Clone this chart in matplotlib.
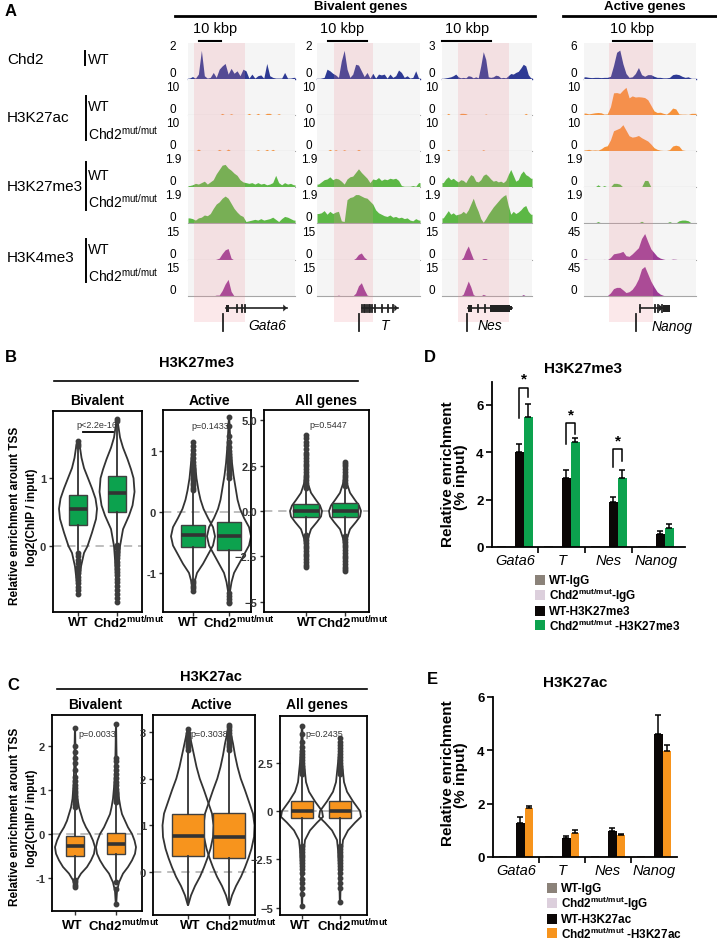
import numpy as np
import matplotlib
matplotlib.use('Agg')
import matplotlib.pyplot as plt
from matplotlib.lines import Line2D
from matplotlib.patches import Rectangle, Polygon

plt.rcParams['font.family'] = ['Liberation Sans', 'DejaVu Sans']
plt.rcParams['mathtext.fontset'] = 'custom'
plt.rcParams['mathtext.rm'] = 'Liberation Sans'
plt.rcParams['mathtext.it'] = 'Liberation Sans:italic'
plt.rcParams['mathtext.bf'] = 'Liberation Sans:bold'

# ------------------------------------------------------------------ DATA
loci = ['Gata6', 'T', 'Nes', 'Nanog']
track_marks = ['Chd2', 'H3K27ac', 'H3K27me3', 'H3K4me3']

scale_gata6 = [2, 10, 10, 1.9, 1.9, 15, 15]
scale_t = [2, 10, 10, 1.9, 1.9, 15, 15]
scale_nes = [3, 10, 10, 1.9, 1.9, 15, 15]
scale_nanog = [6, 10, 10, 1.9, 1.9, 45, 45]

gata6_chd2 = [0.05,0.15,0.05,0.3,1.75,0.2,0.05,0.1,0.4,0.1,0.6,0.8,0.95,0.3,0.65,0.35,0.5,0.2,0.6,0.5,0.05,0.3,0.05,0.2,0.25,0.05,0.95,0.2,0.1,0.05,0.05,0.05,0.4,0.05,0.05,0.1]
gata6_k27ac_wt = [0,0,0,0,0,0,0,0,0,0,0,0.6,0,0,0.5,0,0,0,0,0,0.6,0,0,0.6,0,0,0.6,0.6,0,0,0.5,0,0,0,0,0]
gata6_k27ac_mut = [0,0,0,0.7,0,0,0,0,0,0,0.6,0,0,0.7,0,0,0,0,0,0,0,0,0,0.5,0,0,0.6,0,0.6,0,0,0,0,0,0,0]
gata6_k27me3_wt = [0.1,0.15,0.25,0.2,0.3,0.4,0.2,0.35,0.5,0.9,1.2,1.5,1.55,1.3,1.15,0.95,0.8,0.5,0.35,0.3,0.25,0.3,0.2,0.3,0.2,0.25,0.15,0.2,0.3,0.8,0.3,0.15,0.3,0.2,0.25,0.15]
gata6_k27me3_mut = [0.35,0.3,0.2,0.35,0.4,0.55,0.5,0.65,1.0,1.3,1.45,1.7,1.85,1.7,1.35,1.0,0.75,0.55,0.45,0.1,0.15,0.2,0.25,0.2,0.3,0.2,0.25,0.3,0.4,0.25,0.1,0.3,0.45,0.4,0.3,0.2]
gata6_k4me3_wt = [0,0,0,0,0,0,0,0,0,0.4,1.0,3.5,5.5,6.2,1.0,0,0,0,0,0,0,0,0,0,0,0,0,0,0,0,0,0,0,0,0,0]
gata6_k4me3_mut = [0,0,0,0,0,0,0,0,0,0.5,0.5,3.0,6.5,9.0,2.5,0,0,0,0,0,0,0,0,0,0,0,0,0,0,0,0,0,0,0,0,0]

t_chd2 = [0,0.05,0.1,0.6,0.5,0.35,0.25,0.1,1.1,1.75,0.6,0.1,0.3,0.9,0.85,0.5,0.15,0.4,0.05,0.35,0.05,0.3,0.25,0.3,0.05,0.3,0.1,0.2,0.55,0.4,0.1,0.2,0.05,0.1,0.5,0.05]
t_k27ac_wt = [0,0,0,0,0,0,0,0,0,0,0,0,0,0,0,0,0,0,0,0,0,0,0,0,0,0,0,0,0,0,0,0,0,0,0,0]
t_k27ac_mut = [0,0,0,0,0.6,0,0.5,0,0,0.5,0,0,0,0,0.6,0,0,0,0,0,0,0,0,0,0,0,0,0,0,0,0,0,0,0,0,0]
t_k27me3_wt = [0.2,0.35,0.5,0.55,0.7,0.5,0.6,0.55,0.4,0.2,0.55,0.7,0.75,1.0,1.25,1.0,0.8,0.6,0.3,0.55,0.5,0.65,0.45,0.55,0.5,0.6,0.55,0.6,0.45,0.1,0.05,0.05,0.05,0.1,0.05,0.3]
t_k27me3_mut = [0.65,0.7,0.85,0.6,0.8,0.65,0.75,0.8,0.15,0.1,1.6,1.75,1.8,1.95,1.95,1.85,1.75,1.7,1.5,1.3,0.9,0.7,0.6,0.5,0.45,0.55,0.4,0.45,0.35,0.4,0.3,0.35,0.2,0.15,0.3,0.2]
t_k4me3_wt = [0,0,0,0,0,0,0,0,0,0,0,0,0,1.0,3.0,3.8,1.5,0.2,0,0,0,0,0,0,0,0,0,0,0,0,0,0,0,0,0,0]
t_k4me3_mut = [0,0,0,0,0,0,0,0.5,0,0,0,0,0,1.5,5.5,7.2,3.5,0.5,0,0,0,0,0,0,0,0,0,0,0,0,0,0,0,0,0,0]

nes_chd2 = [0.05,0.1,0.15,0.2,0.3,0.45,0.2,0.1,0.15,0.1,0.3,0.25,0.1,0.2,0.1,1.2,2.5,1.8,0.2,0.15,0.2,0.35,0.3,0.1,0.15,0.1,0.3,0.5,0.45,0.6,0.7,1.0,1.35,1.2,0.4,0.1]
nes_k27ac_wt = [0,0,0.6,0,0,0,0,0.6,0.6,0.5,0,0,0,0,0,0,0,0.4,0,0,0,0,0,0,0,0,0,0,0,0,0,0,0,0.6,0,0]
nes_k27ac_mut = [0,0,0.6,0,0,0,0,0,0,0,0,0,0,0,0,0,0.5,0,0,0,0,0,0,0,0,0,0,0,0,0,0,0,0,0,0,0]
nes_k27me3_wt = [0.3,0.55,0.7,0.5,0.6,0.45,0.35,0.5,0.45,0.3,0.6,0.85,0.75,0.4,0.35,0.5,0.8,0.9,0.75,0.55,0.4,0.45,0.35,0.4,0.3,0.45,0.85,1.2,0.8,0.4,0.5,0.9,1.1,0.85,0.75,0.6]
nes_k27me3_mut = [0.35,0.6,0.85,0.6,0.7,0.55,0.6,0.65,0.8,0.65,0.9,1.3,1.7,1.2,0.8,0.3,0.05,0.3,0.6,0.85,1.1,1.3,1.5,1.7,1.85,1.95,1.2,0.6,0.8,0.65,0.75,0.9,1.1,1.2,0.8,0.6]
nes_k4me3_wt = [0,0,0,0,0,0,0,0,1.5,5.0,7.6,4.0,0.5,0,0,0,0.8,0.8,0,0,0,0,0,0,0,0,0,0,0,0,0,0,0,0,0,0]
nes_k4me3_mut = [0,0,0,0,0,0,0,0,1.0,4.5,8.1,5.0,0.8,0,0,0,0.9,0.3,0,0,0,0,0,0,0,0,0,0,0,0,0,0,0.8,0,0,0]

nanog_chd2 = [0.4,0.3,0.25,0.3,0.3,0.25,0.3,0.3,0.5,2.5,4.9,5.3,2.8,1.0,0.3,0.4,1.0,2.1,0.8,0.5,0.8,0.8,0.5,0.3,0.3,0.2,0.2,0.3,0.8,0.9,0.8,0.5,0.3,0.4,0.1,0.05]
nanog_k27ac_wt = [0.7,0.4,0.6,0.8,0.9,0.8,0.3,0.4,3.0,8.0,8.1,7.8,9.0,10.0,6.2,6.9,6.5,6.6,6.5,6.3,5.5,3.5,1.5,0.9,1.0,0.6,0.3,1.2,2.5,2.2,0.4,0.3,0.3,0.2,0.6,0.6]
nanog_k27ac_mut = [0.4,0.6,0.3,0.4,0.3,0.8,1.6,1.9,4.0,7.3,7.8,8.3,9.5,7.5,5.5,5.0,5.2,5.6,4.8,4.2,3.6,2.5,1.2,0.6,0.3,0.2,0.2,0.5,1.8,2.1,1.8,0.4,0.2,0.1,0.1,0.1]
nanog_k27me3_wt = [0,0,0,0,0.15,0,0.1,0,0,0.25,0.25,0.2,0,0,0,0,0,0,0,0.45,0.45,0,0,0,0,0,0,0,0,0,0,0,0,0,0,0]
nanog_k27me3_mut = [0,0,0,0,0.1,0,0,0,0,0,0,0,0,0,0,0,0,0,0.12,0,0,0,0,0,0,0,0,0.1,0,0,0.15,0.2,0.2,0.15,0,0]
nanog_k4me3_wt = [1.5,0.5,0.2,0.2,0.2,0.5,1.0,0.5,4.0,10.0,11.0,12.0,14.0,7.0,6.0,10.0,15.0,20.0,35.0,43.0,30.0,18.0,12.0,6.0,3.0,1.5,0.3,0.3,1.5,1.2,0.2,0.1,0.1,0.1,0.1,0.1]
nanog_k4me3_mut = [0,0,0,0,0,0,0,0.5,5.0,12.0,14.0,14.0,10.0,5.6,7.0,11.0,18.0,28.0,44.0,48.0,36.0,24.0,15.0,7.0,3.0,1.0,0,0,0,0,0,0,0,0,0,0]

# gene models (fraction of each locus window)
gene_span = [(0.355, 0.925), (0.437, 0.786), (0.289, 0.778), (0.50, 0.705)]
gene_exons = [[0.458, 0.505, 0.533], [0.44, 0.455, 0.47, 0.485, 0.50, 0.515, 0.53, 0.563, 0.631, 0.689, 0.738],
              [0.40, 0.478], [0.50, 0.634, 0.661, 0.696]]
gene_thick = [[(0.355, 0.383)], [], [(0.289, 0.333), (0.533, 0.756)], [(0.705, 0.768)]]
gene_arrow = [True, True, False, True]
gene_tss = [0.327, 0.408, 0.278, 0.464]
gene_label_pos = [0.738, 0.66, 0.533, 0.786]

# Panel B (H3K27me3) violin density profiles
B_biv_wt_y = [-0.7,-0.5,-0.3,-0.1,0.0,0.2,0.4,0.55,0.7,0.85,1.0,1.15,1.3,1.45,1.55]
B_biv_wt_d = [0.3,1.5,3,6,9.5,14,18,19,17.5,14,10,6,3.5,2,0.5]
B_biv_mut_y = [-0.8,-0.5,-0.2,0.0,0.25,0.45,0.6,0.8,1.0,1.13,1.28,1.45,1.6,1.75,1.87]
B_biv_mut_d = [0.3,1,2,3,6,12,15.5,17.5,16.5,14,10.5,6,3,1.5,0.3]
B_act_wt_y = [-1.3,-1.15,-1.0,-0.85,-0.7,-0.55,-0.4,-0.25,-0.1,0.05,0.2,0.35,0.55,0.8,1.0,1.15]
B_act_wt_d = [0.3,1.5,4,10,15,20,22,20,15,10.5,7.5,5.5,3.5,2,1,0.3]
B_act_mut_y = [-1.5,-1.3,-1.15,-1.0,-0.85,-0.7,-0.55,-0.4,-0.25,-0.1,0.05,0.2,0.4,0.6,0.8,1.0,1.2,1.4,1.55]
B_act_mut_d = [0.3,1,2.5,5,10,15,20,22,20,15,11,8.5,6.5,4.5,3,2,1.2,0.6,0.2]
B_all_wt_y = [-3.1,-2.5,-2.0,-1.5,-1.0,-0.6,-0.3,0.0,0.3,0.6,1.0,1.5,2.0,3.0,4.2]
B_all_wt_d = [0.2,0.5,0.8,2,5,11,15,16,14,10,5,2,1,0.5,0.2]
B_all_mut_y = [-3.3,-2.5,-2.0,-1.5,-1.0,-0.6,-0.3,0.0,0.3,0.6,1.0,1.5,2.0,2.7]
B_all_mut_d = [0.2,0.5,0.8,2,5,11,15,16,14,10,5,2,0.8,0.2]

# box stats: (median, q1, q3, whisker low, whisker high)
B_biv_box = [(0.54, 0.31, 0.76, -0.05, 1.43), (0.78, 0.51, 1.03, 0.05, 1.81)]
B_act_box = [(-0.38, -0.57, -0.21, -1.10, 0.33), (-0.39, -0.62, -0.16, -1.30, 0.53)]
B_all_box = [(0.0, -0.33, 0.38, -1.25, 1.20), (0.0, -0.33, 0.44, -1.35, 1.35)]
B_biv_fl = [[-0.1,-0.15,-0.2,-0.25,-0.3,-0.35,-0.4,-0.45,-0.5,-0.55,-0.6,-0.65,-0.7,1.47,1.51,1.55],
            [0.02,-0.03,-0.08,-0.13,-0.18,-0.23,-0.28,-0.33,-0.38,-0.43,-0.48,-0.53,-0.58,-0.64,-0.7,-0.76,-0.82,1.84,1.87]]
B_act_fl = [[-1.13,-1.17,-1.21,-1.25,-1.29,0.36,0.40,0.44,0.48,0.52,0.56,0.60,0.64,0.68,0.72,0.77,0.82,0.88,0.95,1.02,1.08,1.15],
            [-1.33,-1.37,-1.42,-1.47,-1.5,0.56,0.60,0.64,0.68,0.72,0.76,0.80,0.85,0.90,0.95,1.0,1.06,1.15,1.25,1.4,1.55]]
B_all_fl = [[-1.3,-1.45,-1.6,-1.75,-1.9,-2.05,-2.2,-2.35,-2.5,-2.65,-2.8,-2.95,-3.1,1.25,1.4,1.55,1.7,1.85,2.0,2.15,2.3,2.45,2.6,2.75,2.9,3.05,3.2,3.4,3.6,3.8,4.0,4.2],
            [-1.4,-1.55,-1.7,-1.85,-2.0,-2.15,-2.3,-2.45,-2.6,-2.75,-2.9,-3.05,-3.2,-3.3,1.4,1.55,1.7,1.85,2.0,2.15,2.3,2.45,2.6,2.7]]
B_pvals = ['p<2.2e-16', 'p=0.1433', 'p=0.5447']

# Panel C (H3K27ac)
C_biv_wt_y = [-1.2,-1.05,-0.9,-0.75,-0.6,-0.45,-0.3,-0.15,0.0,0.15,0.3,0.45,0.6,0.8,1.1,1.5,2.0,2.4]
C_biv_wt_d = [0.3,2,6,12,16,19,20,18,15,11,8,6,4,2.5,1.5,0.8,0.4,0.1]
C_biv_mut_y = [-1.6,-1.3,-1.1,-0.9,-0.75,-0.6,-0.45,-0.3,-0.15,0.0,0.15,0.3,0.45,0.6,0.8,1.1,1.5,2.0,2.5]
C_biv_mut_d = [0.2,1,3,7,12,16,19,20,18.5,16,12,9,6,4.5,3,1.8,0.8,0.4,0.1]
C_act_wt_y = [-0.7,-0.5,-0.3,-0.1,0.1,0.3,0.5,0.75,1.0,1.25,1.5,1.75,2.0,2.25,2.5,2.75,3.05]
C_act_wt_d = [0.3,3,7,12,16,19.5,22.5,25,25.5,24,20,16,11.7,8.5,6,3.5,0.5]
C_act_mut_y = [-0.7,-0.5,-0.3,-0.1,0.1,0.3,0.5,0.75,1.0,1.25,1.5,1.75,2.0,2.25,2.5,2.75,3.0,3.15]
C_act_mut_d = [0.3,3,7,12,16,19.5,22.5,25,25.5,24,20,16,11.7,8.5,6,4,1.5,0.3]
C_all_wt_y = [-4.9,-4.0,-3.0,-2.5,-2.0,-1.5,-1.0,-0.6,-0.3,0.0,0.5,1.0,1.5,2.5,3.5,4.4]
C_all_wt_d = [0.2,0.5,1,1.5,2,3,8,15,21,20,13,7,4,2,0.8,0.2]
C_all_mut_y = [-4.7,-4.0,-3.0,-2.5,-2.0,-1.5,-1.0,-0.6,-0.3,0.0,0.5,1.0,1.5,2.5,3.2,3.8]
C_all_mut_d = [0.2,0.5,1,1.5,2,3,8,15,21,20,13,7,4,2,0.8,0.2]

C_biv_box = [(-0.27, -0.49, -0.05, -1.0, 0.6), (-0.24, -0.45, 0.02, -1.05, 0.7)]
C_act_box = [(0.77, 0.34, 1.24, -0.7, 2.6), (0.74, 0.30, 1.26, -0.7, 2.6)]
C_all_box = [(0.02, -0.38, 0.53, -1.75, 1.85), (0.02, -0.38, 0.53, -1.75, 1.85)]
C_biv_fl = [[-1.05,-1.1,-1.15,-1.2,0.62,0.68,0.74,0.8,0.86,0.92,0.98,1.05,1.12,1.2,1.3,1.45,1.6,1.72,1.85,2.0,2.4],
            [-1.1,-1.25,-1.6,0.72,0.78,0.84,0.9,0.96,1.02,1.1,1.18,1.26,1.35,1.45,1.55,1.65,1.72,2.5]]
C_act_fl = [[2.62,2.67,2.72,2.77,2.82,2.87,2.92,2.97,3.05],
            [2.62,2.67,2.72,2.77,2.82,2.87,2.92,2.97,3.03,3.1,3.15]]
C_all_fl = [[-1.8,-1.95,-2.1,-2.25,-2.4,-2.55,-2.7,-2.85,-3.0,-3.2,-3.5,-3.7,-4.0,-4.3,-4.9,1.9,2.05,2.2,2.35,2.5,2.65,2.8,2.95,3.1,3.3,3.6,4.0,4.4],
            [-1.8,-1.95,-2.1,-2.25,-2.4,-2.55,-2.7,-2.85,-3.0,-3.2,-3.45,-3.7,-4.0,-4.7,1.9,2.05,2.2,2.35,2.5,2.65,2.8,2.95,3.1,3.25,3.4,3.6,3.8]]
C_pvals = ['p=0.0033', 'p=0.3038', 'p=0.2435']

# Panel D (ChIP-qPCR H3K27me3)
D_wt_igg = [0.03, 0.03, 0.03, 0.03]
D_mut_igg = [0.03, 0.03, 0.03, 0.03]
D_wt = [4.02, 2.92, 1.90, 0.57]
D_wt_err = [0.33, 0.33, 0.22, 0.10]
D_mut = [5.50, 4.42, 2.92, 0.80]
D_mut_err = [0.55, 0.20, 0.33, 0.18]
D_br_top = [6.7, 5.22, 4.14]
D_br_left = [5.45, 4.35, 3.37]
D_br_right = [6.32, 4.77, 3.65]
D_star = [7.1, 5.58, 4.49]
D_legend = ['WT-IgG', r'Chd2$^{\mathbf{mut/mut}}$-IgG', 'WT-H3K27me3', r'Chd2$^{\mathbf{mut/mut}}$ -H3K27me3']

# Panel E (ChIP-qPCR H3K27ac)
E_wt_igg = [0.02, 0.02, 0.02, 0.02]
E_mut_igg = [0.02, 0.02, 0.02, 0.02]
E_wt = [1.27, 0.70, 0.96, 4.60]
E_wt_err = [0.23, 0.08, 0.11, 0.72]
E_mut = [1.82, 0.90, 0.83, 3.98]
E_mut_err = [0.08, 0.10, 0.05, 0.22]
E_legend = ['WT-IgG', r'Chd2$^{\mathbf{mut/mut}}$-IgG', 'WT-H3K27ac', r'Chd2$^{\mathbf{mut/mut}}$ -H3K27ac']

# ------------------------------------------------------------------ STYLE
W, H = 717, 945
fig = plt.figure(figsize=(W / 100, H / 100), dpi=100)

NAVY = '#2e3a94'; ORANGE_T = '#f7923a'; GREEN_T = '#5cb845'; PURPLE = '#9b3b96'
BOX_GREEN = '#0ca24e'; BOX_ORANGE = '#f7941d'
IGG_WT = '#8b8279'; IGG_MUT = '#dccfdc'; BLACK = '#0b0706'
DARK = '#333333'


def axpx(x0, y0, x1, y1, **kw):
    return fig.add_axes([x0 / W, 1 - y1 / H, (x1 - x0) / W, (y1 - y0) / H], **kw)


def tx(x, y, s, **kw):
    kw.setdefault('ha', 'center')
    kw.setdefault('va', 'center')
    return fig.text(x / W, 1 - y / H, s, **kw)


def ln(xs, ys, **kw):
    kw.setdefault('color', 'black')
    kw.setdefault('lw', 1.2)
    fig.add_artist(Line2D([x / W for x in xs], [1 - y / H for y in ys],
                          transform=fig.transFigure, **kw))


# ------------------------------------------------------------------ PANEL A
tx(5, 12, 'A', fontsize=12, fontweight='bold', ha='left')
tx(361, 7, 'Bivalent genes', fontsize=9.5, fontweight='bold')
ln([175, 535], [17, 17], lw=2)
tx(645, 7, 'Active genes', fontsize=9.5, fontweight='bold')
ln([563, 717], [17, 17], lw=2)

MUT = r'Chd2$^{\mathrm{mut/mut}}$'
tx(7, 60, 'Chd2', fontsize=11, ha='left')
ln([85, 85], [52, 66], lw=1.4)
tx(88, 60, 'WT', fontsize=10, ha='left')
for name, ym, yw, ymu, yb0, yb1 in [('H3K27ac', 118, 107, 134, 97, 141),
                                     ('H3K27me3', 187, 176, 202, 163, 211),
                                     ('H3K4me3', 258, 250, 276, 240, 283)]:
    tx(7, ym, name, fontsize=11, ha='left')
    ln([86, 86], [yb0, yb1], lw=1.4)
    tx(88, yw, 'WT', fontsize=10, ha='left')
    tx(88, ymu, MUT, fontsize=10, ha='left')

signals = [
    [gata6_chd2, gata6_k27ac_wt, gata6_k27ac_mut, gata6_k27me3_wt, gata6_k27me3_mut, gata6_k4me3_wt, gata6_k4me3_mut],
    [t_chd2, t_k27ac_wt, t_k27ac_mut, t_k27me3_wt, t_k27me3_mut, t_k4me3_wt, t_k4me3_mut],
    [nes_chd2, nes_k27ac_wt, nes_k27ac_mut, nes_k27me3_wt, nes_k27me3_mut, nes_k4me3_wt, nes_k4me3_mut],
    [nanog_chd2, nanog_k27ac_wt, nanog_k27ac_mut, nanog_k27me3_wt, nanog_k27me3_mut, nanog_k4me3_wt, nanog_k4me3_mut],
]
scales = [scale_gata6, scale_t, scale_nes, scale_nanog]
cols_px = [(188, 295, 194, 245), (317, 420, 334, 373), (442, 532, 458, 509), (584, 696, 609, 653)]
bar_px = [(199, 221), (328, 367), (442, 491), (613, 652)]
kbp_x = [215, 342, 467, 632]
label_x = [173, 309, 432, 574]
baselines = [80, 116, 152, 188, 224, 261, 297]
track_colors = [NAVY, ORANGE_T, ORANGE_T, GREEN_T, GREEN_T, PURPLE, PURPLE]
TH = 36

for ci, (x0, x1, p0, p1) in enumerate(cols_px):
    tx(kbp_x[ci], 29, '10 kbp', fontsize=10.5)
    ln(list(bar_px[ci]), [42, 42], lw=1.5)
    for ri, b in enumerate(baselines):
        ax = axpx(x0, b - TH, x1, b, facecolor='#f5f5f5')
        v = np.array(signals[ci][ri], dtype=float)
        n = len(v)
        xs = np.r_[0, np.arange(n) + 0.5, n]
        ys = np.r_[v[0], v, v[-1]]
        ax.fill_between(xs, ys, color=track_colors[ri], lw=0)
        s = scales[ci][ri]
        top = s * (1.1 if ri == 0 else 1.3)
        ax.set_xlim(0, n)
        ax.set_ylim(0, top)
        ax.plot([0, n], [0, 0], color=(NAVY if ri == 0 else '#a6a6a6'),
                lw=(1.0 if ri == 0 else 0.8), clip_on=False)
        for sp in ax.spines.values():
            sp.set_visible(False)
        ax.set_xticks([])
        ax.set_yticks([])
        tx(label_x[ci], b - TH * s / top, '%g' % s, fontsize=8.5)
        tx(label_x[ci], b - 6, '0', fontsize=8.5)
    # pink highlight of the promoter region
    fig.add_artist(Rectangle((p0 / W, 1 - 323 / H), (p1 - p0) / W, (323 - 44) / H,
                             transform=fig.transFigure, facecolor=(0.93, 0.55, 0.6),
                             alpha=0.2, lw=0, zorder=1))
    # gene model
    gax = axpx(x0, 300, x1, 336, zorder=3)
    gax.set_xlim(0, 1)
    gax.set_ylim(36, 0)
    gax.set_axis_off()
    gs, ge = gene_span[ci]
    gax.plot([gs, ge], [9, 9], color='#222222', lw=1.2)
    for e in gene_exons[ci]:
        gax.plot([e, e], [5.5, 12.5], color='#222222', lw=1.3)
    for (a, bb) in gene_thick[ci]:
        gax.add_patch(Rectangle((a, 5.5), bb - a, 7, facecolor='#222222', lw=0))
    if gene_arrow[ci]:
        gax.add_patch(Polygon([(ge - 0.035, 5.5), (ge, 9), (ge - 0.035, 12.5)],
                              closed=True, facecolor='#222222', lw=0))
    else:
        gax.add_patch(Rectangle((ge - 0.025, 7), 0.025, 4, facecolor='#222222', lw=0))
    gax.plot([gene_tss[ci], gene_tss[ci]], [15, 32], color='#222222', lw=1.3)
    gax.text(gene_label_pos[ci], 26.5, loci[ci], fontsize=10, fontstyle='italic',
             ha='center', va='center')


# ------------------------------------------------------------------ PANELS B, C
def violin_panel(rect, xlim, ylim, ppu, profiles, boxes, fliers, boxw, color,
                 yticks, yticklabels):
    ax = axpx(*rect)
    ax.set_xlim(*xlim)
    ax.set_ylim(*ylim)
    ax.axhline(0, color='#b3b3b3', lw=1.2, ls=(0, (5, 3.5)), zorder=0.5)
    vps = [dict(coords=np.array(y), vals=np.array(d), mean=0.0, median=0.0,
                min=y[0], max=y[-1]) for y, d in profiles]
    widths = [2 * max(d) / ppu for y, d in profiles]
    parts = ax.violin(vps, positions=[1, 2], widths=widths, showmeans=False,
                      showextrema=False, showmedians=False)
    for body in parts['bodies']:
        body.set_facecolor('none')
        body.set_edgecolor(DARK)
        body.set_linewidth(1.3)
        body.set_alpha(1)
    stats = [dict(med=m, q1=q1, q3=q3, whislo=lo, whishi=hi, fliers=fl)
             for (m, q1, q3, lo, hi), fl in zip(boxes, fliers)]
    ax.bxp(stats, positions=[1, 2], widths=boxw, patch_artist=True, showcaps=False,
           manage_ticks=False,
           boxprops=dict(facecolor=color, edgecolor='#404040', linewidth=1.0),
           medianprops=dict(color=DARK, linewidth=2.6, solid_capstyle='butt'),
           whiskerprops=dict(color=DARK, linewidth=1.3),
           flierprops=dict(marker='o', markersize=3.2, markerfacecolor='#3d3d3d',
                           markeredgecolor='#3d3d3d'))
    ax.set_xticks([1, 2], ['', ''])
    ax.set_yticks(yticks, yticklabels)
    for lab in ax.get_yticklabels():
        lab.set_fontweight('bold')
    ax.tick_params(length=3, width=1, colors=DARK, labelsize=8, pad=2)
    for sp in ax.spines.values():
        sp.set_linewidth(1.3)
        sp.set_color('black')
    return ax


BMUT = r'Chd2$^{\mathbf{mut/mut}}$'
YL1 = 'Relative enrichment arount TSS'
YL2 = 'log2(ChIP / input)'

# ---- B
tx(5, 358, 'B', fontsize=12, fontweight='bold', ha='left')
tx(197, 363, 'H3K27me3', fontsize=10.5, fontweight='bold')
ln([54, 358], [382, 382], lw=1.2)
for xx, s in [(97, 'Bivalent'), (209, 'Active'), (326, 'All genes')]:
    tx(xx, 401, s, fontsize=10, fontweight='bold')
tx(15, 516, YL1, fontsize=8.5, fontweight='bold', rotation=90)
tx(32, 517, YL2, fontsize=8.5, fontweight='bold', rotation=90)

violin_panel((53, 412, 142, 613), (0.359, 2.64), (-0.97, 1.99), 39,
             [(B_biv_wt_y, B_biv_wt_d), (B_biv_mut_y, B_biv_mut_d)], B_biv_box, B_biv_fl,
             0.46, BOX_GREEN, [0, 1], ['0', '1'])
violin_panel((163, 411, 251, 613), (0.167, 2.61), (-1.64, 1.67), 36,
             [(B_act_wt_y, B_act_wt_d), (B_act_mut_y, B_act_mut_d)], B_act_box, B_act_fl,
             0.69, BOX_GREEN, [-1, 0, 1], ['-1', '0', '1'])
violin_panel((264, 411, 369, 613), (-0.077, 2.615), (-5.55, 5.55), 39,
             [(B_all_wt_y, B_all_wt_d), (B_all_mut_y, B_all_mut_d)], B_all_box, B_all_fl,
             0.67, BOX_GREEN, [-5, -2.5, 0, 2.5, 5], ['\u22125', '\u22122.5', '0.0', '2.5', '5.0'])
tx(97, 425, B_pvals[0], fontsize=6.5, color=DARK)
ln([83, 113], [433, 433], lw=1.3)
tx(210, 427, B_pvals[1], fontsize=6.5, color=DARK)
tx(328, 425, B_pvals[2], fontsize=6.5, color=DARK)
for wx, mx in [(78, 93), (188, 203), (307, 317)]:
    tx(wx, 623, 'WT', fontsize=9.5, fontweight='bold')
    tx(mx, 623, BMUT, fontsize=9.5, fontweight='bold', ha='left')

# ---- C
tx(7, 685, 'C', fontsize=12, fontweight='bold', ha='left')
tx(211, 677, 'H3K27ac', fontsize=10.5, fontweight='bold')
ln([57, 367], [690, 690], lw=1.2)
for xx, s in [(95, 'Bivalent'), (211, 'Active'), (317, 'All genes')]:
    tx(xx, 705, s, fontsize=10, fontweight='bold')
tx(15, 817, YL1, fontsize=8.5, fontweight='bold', rotation=90)
tx(32, 818, YL2, fontsize=8.5, fontweight='bold', rotation=90)

violin_panel((52, 716, 142, 912), (0.439, 2.634), (-1.75, 2.7), 41,
             [(C_biv_wt_y, C_biv_wt_d), (C_biv_mut_y, C_biv_mut_d)], C_biv_box, C_biv_fl,
             0.44, BOX_ORANGE, [-1, 0, 1, 2], ['-1', '0', '1', '2'])
violin_panel((153, 716, 255, 916), (0.146, 2.634), (-0.92, 3.36), 41,
             [(C_act_wt_y, C_act_wt_d), (C_act_mut_y, C_act_mut_d)], C_act_box, C_act_fl,
             0.80, BOX_ORANGE, [0, 1, 2, 3], ['0', '1', '2', '3'])
violin_panel((280, 717, 367, 916), (0.421, 2.71), (-5.38, 4.92), 38,
             [(C_all_wt_y, C_all_wt_d), (C_all_mut_y, C_all_mut_d)], C_all_box, C_all_fl,
             0.58, BOX_ORANGE, [-5, -2.5, 0, 2.5], ['\u22125', '\u22122.5', '0', '2.5'])
tx(97, 735, C_pvals[0], fontsize=6.5, color=DARK)
tx(209, 735, C_pvals[1], fontsize=6.5, color=DARK)
tx(324, 735, C_pvals[2], fontsize=6.5, color=DARK)
for wx, mx in [(72, 88), (190, 205), (300, 317)]:
    tx(wx, 926, 'WT', fontsize=9.5, fontweight='bold')
    tx(mx, 926, BMUT, fontsize=9.5, fontweight='bold', ha='left')


# ------------------------------------------------------------------ PANELS D, E
def bar_panel(rect, xlim, ylim, series, errs, colors, w):
    ax = axpx(*rect)
    x = np.arange(len(loci))
    offs = [-1.5, -0.5, 0.5, 1.5]
    for k in range(4):
        e = errs[k]
        kw = {}
        if e is not None:
            kw = dict(yerr=[np.zeros(len(e)), e],
                      error_kw=dict(ecolor='black', elinewidth=1.1, capsize=2.4, capthick=1.1))
        ax.bar(x + offs[k] * w, series[k], w, color=colors[k], lw=0, **kw)
    ax.set_xlim(*xlim)
    ax.set_ylim(*ylim)
    for sp in ['top', 'right']:
        ax.spines[sp].set_visible(False)
    for sp in ['left', 'bottom']:
        ax.spines[sp].set_linewidth(1.3)
    ax.set_yticks([0, 2, 4, 6], ['0', '2', '4', '6'])
    for lab in ax.get_yticklabels():
        lab.set_fontweight('bold')
    ax.tick_params(axis='y', length=4, width=1.2, labelsize=9.5, pad=2)
    ax.set_xticks(x, loci)
    for lab in ax.get_xticklabels():
        lab.set_fontstyle('italic')
    ax.tick_params(axis='x', which='major', length=0, labelsize=10.5, pad=4)
    ax.set_xticks([0.5, 1.5, 2.5], minor=True)
    ax.tick_params(axis='x', which='minor', length=4, width=1.2)
    ax.patch.set_alpha(0)
    return ax, x


def legend_block(xsq, ys, labels, colors):
    for y, lab, c in zip(ys, labels, colors):
        fig.add_artist(Rectangle((xsq / W, 1 - (y + 5) / H), 10 / W, 10 / H,
                                 transform=fig.transFigure, facecolor=c, lw=0))
        tx(xsq + 14, y, lab, fontsize=8.5, fontweight='bold', ha='left')


# ---- D
tx(430, 358, 'D', fontsize=12, fontweight='bold')
tx(583, 369, 'H3K27me3', fontsize=11, fontweight='bold')
tx(448, 474, 'Relative enrichment', fontsize=11, fontweight='bold', rotation=90)
tx(461, 477, '(% input)', fontsize=11, fontweight='bold', rotation=90)
wD = 0.19
axD, xD = bar_panel((492, 383, 685, 548), (-0.49, 3.62), (0, 6.97),
                    [D_wt_igg, D_mut_igg, D_wt, D_mut], [None, None, D_wt_err, D_mut_err],
                    [IGG_WT, IGG_MUT, BLACK, BOX_GREEN], wD)
for i in range(3):
    xl = xD[i] + 0.5 * wD
    xr = xD[i] + 1.5 * wD
    axD.plot([xl, xl, xr, xr], [D_br_left[i], D_br_top[i], D_br_top[i], D_br_right[i]],
             color='black', lw=1.1, clip_on=False)
    axD.text((xl + xr) / 2, D_star[i], '*', fontsize=11, fontweight='bold',
             ha='center', va='center')
legend_block(535, [581, 596, 612, 626], D_legend, [IGG_WT, IGG_MUT, BLACK, BOX_GREEN])

# ---- E
tx(432, 680, 'E', fontsize=12, fontweight='bold')
tx(575, 683, 'H3K27ac', fontsize=11, fontweight='bold')
tx(448, 773, 'Relative enrichment', fontsize=11, fontweight='bold', rotation=90)
tx(461, 775, '(% input)', fontsize=11, fontweight='bold', rotation=90)
wE = 0.185
bar_panel((493, 698, 677, 858), (-0.5, 3.5), (0, 6.0),
          [E_wt_igg, E_mut_igg, E_wt, E_mut], [None, None, E_wt_err, E_mut_err],
          [IGG_WT, IGG_MUT, BLACK, BOX_ORANGE], wE)
legend_block(547, [889, 904, 920, 934], E_legend, [IGG_WT, IGG_MUT, BLACK, BOX_ORANGE])

fig.savefig('out.png', dpi=100)
